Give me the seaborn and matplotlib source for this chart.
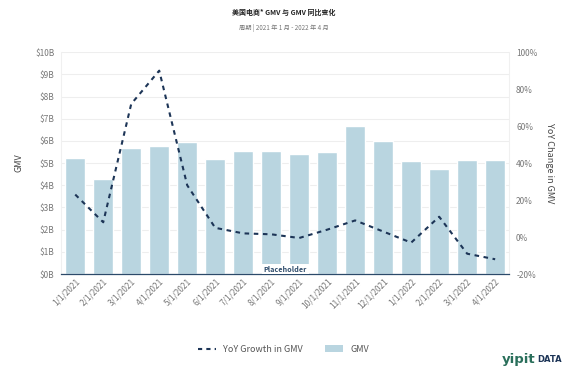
import numpy as np
import pandas as pd
import matplotlib
matplotlib.use("Agg")
import matplotlib.pyplot as plt
import seaborn as sns
from matplotlib.lines import Line2D
from matplotlib.patches import Patch

# Monthly GMV ($B) and YoY growth (%)
months = ["1/1/2021", "2/1/2021", "3/1/2021", "4/1/2021", "5/1/2021", "6/1/2021",
          "7/1/2021", "8/1/2021", "9/1/2021", "10/1/2021", "11/1/2021", "12/1/2021",
          "1/1/2022", "2/1/2022", "3/1/2022", "4/1/2022"]
gmv = [5.22, 4.28, 5.68, 5.77, 5.95, 5.18, 5.54, 5.54, 5.40, 5.50, 6.67, 6.00,
       5.09, 4.73, 5.14, 5.14]
yoy = [23, 8, 72, 90, 28, 5, 2, 1.5, -0.5, 4, 9, 3, -3, 11, -9, -12]

df = pd.DataFrame({"month": months, "gmv": gmv, "yoy": yoy})

sns.set_theme(style="white")
plt.rcParams['font.family'] = ['Noto Sans CJK SC', 'DejaVu Sans']

bar_color = "#b9d5e0"
line_color = "#1d3557"
tick_color = "#777777"

fig = plt.figure(figsize=(5.67, 3.78), dpi=100)
ax = fig.add_axes([0.108, 0.275, 0.79, 0.587])

sns.barplot(data=df, x="month", y="gmv", color=bar_color, width=0.7,
            saturation=1, ax=ax, zorder=2)
ax.set_ylim(0, 10)
ax.set_yticks(range(0, 11))
ax.set_yticklabels([f"${i}B" for i in range(0, 11)])
ax.yaxis.grid(True, color="#eeeeee", linewidth=0.8, zorder=0)
ax.set_axisbelow(True)
ax.set_xlim(-0.5, len(months) - 0.5)
ax.set_xlabel("")
ax.set_ylabel("GMV", fontsize=6.5, color="#444444", labelpad=8)
ax.tick_params(axis="y", labelsize=6, colors=tick_color, length=0, pad=5)
ax.tick_params(axis="x", labelsize=6, colors=tick_color, length=0, pad=2)
plt.setp(ax.get_xticklabels(), rotation=45, ha="right", rotation_mode="anchor")
ax.spines["top"].set_visible(False)
for s in ["left", "right"]:
    ax.spines[s].set_color("#f0f0f0")
    ax.spines[s].set_linewidth(0.8)
ax.spines["bottom"].set_color("#2c4a6a")
ax.spines["bottom"].set_linewidth(0.9)

ax2 = ax.twinx()
sns.lineplot(x=np.arange(len(months)), y=df["yoy"], ax=ax2, color=line_color,
             linewidth=1.5, linestyle=(0, (2.2, 2.2)), zorder=3)
ax2.set_ylim(-20, 100)
ax2.set_yticks(range(-20, 101, 20))
ax2.set_yticklabels([f"{v}%" for v in range(-20, 101, 20)])
ax2.set_ylabel("YoY Change in GMV", fontsize=6.5, color="#444444", rotation=270, labelpad=12)
ax2.tick_params(axis="y", labelsize=6, colors=tick_color, length=0, pad=5)
for s in ["left", "right", "top", "bottom"]:
    ax2.spines[s].set_visible(False)
ax2.set_xlim(-0.5, len(months) - 0.5)

# watermark
ax.text(7.5, 0.06, "Placeholder", ha="center", va="bottom", fontsize=5.2,
        color="#2c4a6a", fontweight="bold", zorder=4,
        bbox=dict(facecolor="white", edgecolor="none", pad=1.2))

fig.text(0.5, 0.968, "美国电商* GMV 与 GMV 同比变化", ha="center", va="center",
         fontsize=5, fontweight="bold", color="#222222")
fig.text(0.5, 0.925, "周期 | 2021 年 1 月 - 2022 年 4 月", ha="center", va="center",
         fontsize=4.5, color="#777777")

handles = [Line2D([0], [0], color=line_color, linewidth=1.5, linestyle=(0, (2, 2))),
           Patch(facecolor=bar_color, edgecolor="none")]
fig.legend(handles, ["YoY Growth in GMV", "GMV"], loc="center", bbox_to_anchor=(0.5, 0.076),
           ncol=2, frameon=False, fontsize=6.5, handlelength=2, columnspacing=2.5,
           labelcolor="#555555")

fig.text(0.945, 0.032, "yipit", ha="right", va="bottom", fontsize=9.5,
         fontweight="bold", color="#2a6f5b", family="DejaVu Sans")
fig.text(0.947, 0.036, "DATA", ha="left", va="bottom", fontsize=6,
         fontweight="bold", color="#1d3557", family="DejaVu Sans")

fig.savefig("out.png", dpi=100)
